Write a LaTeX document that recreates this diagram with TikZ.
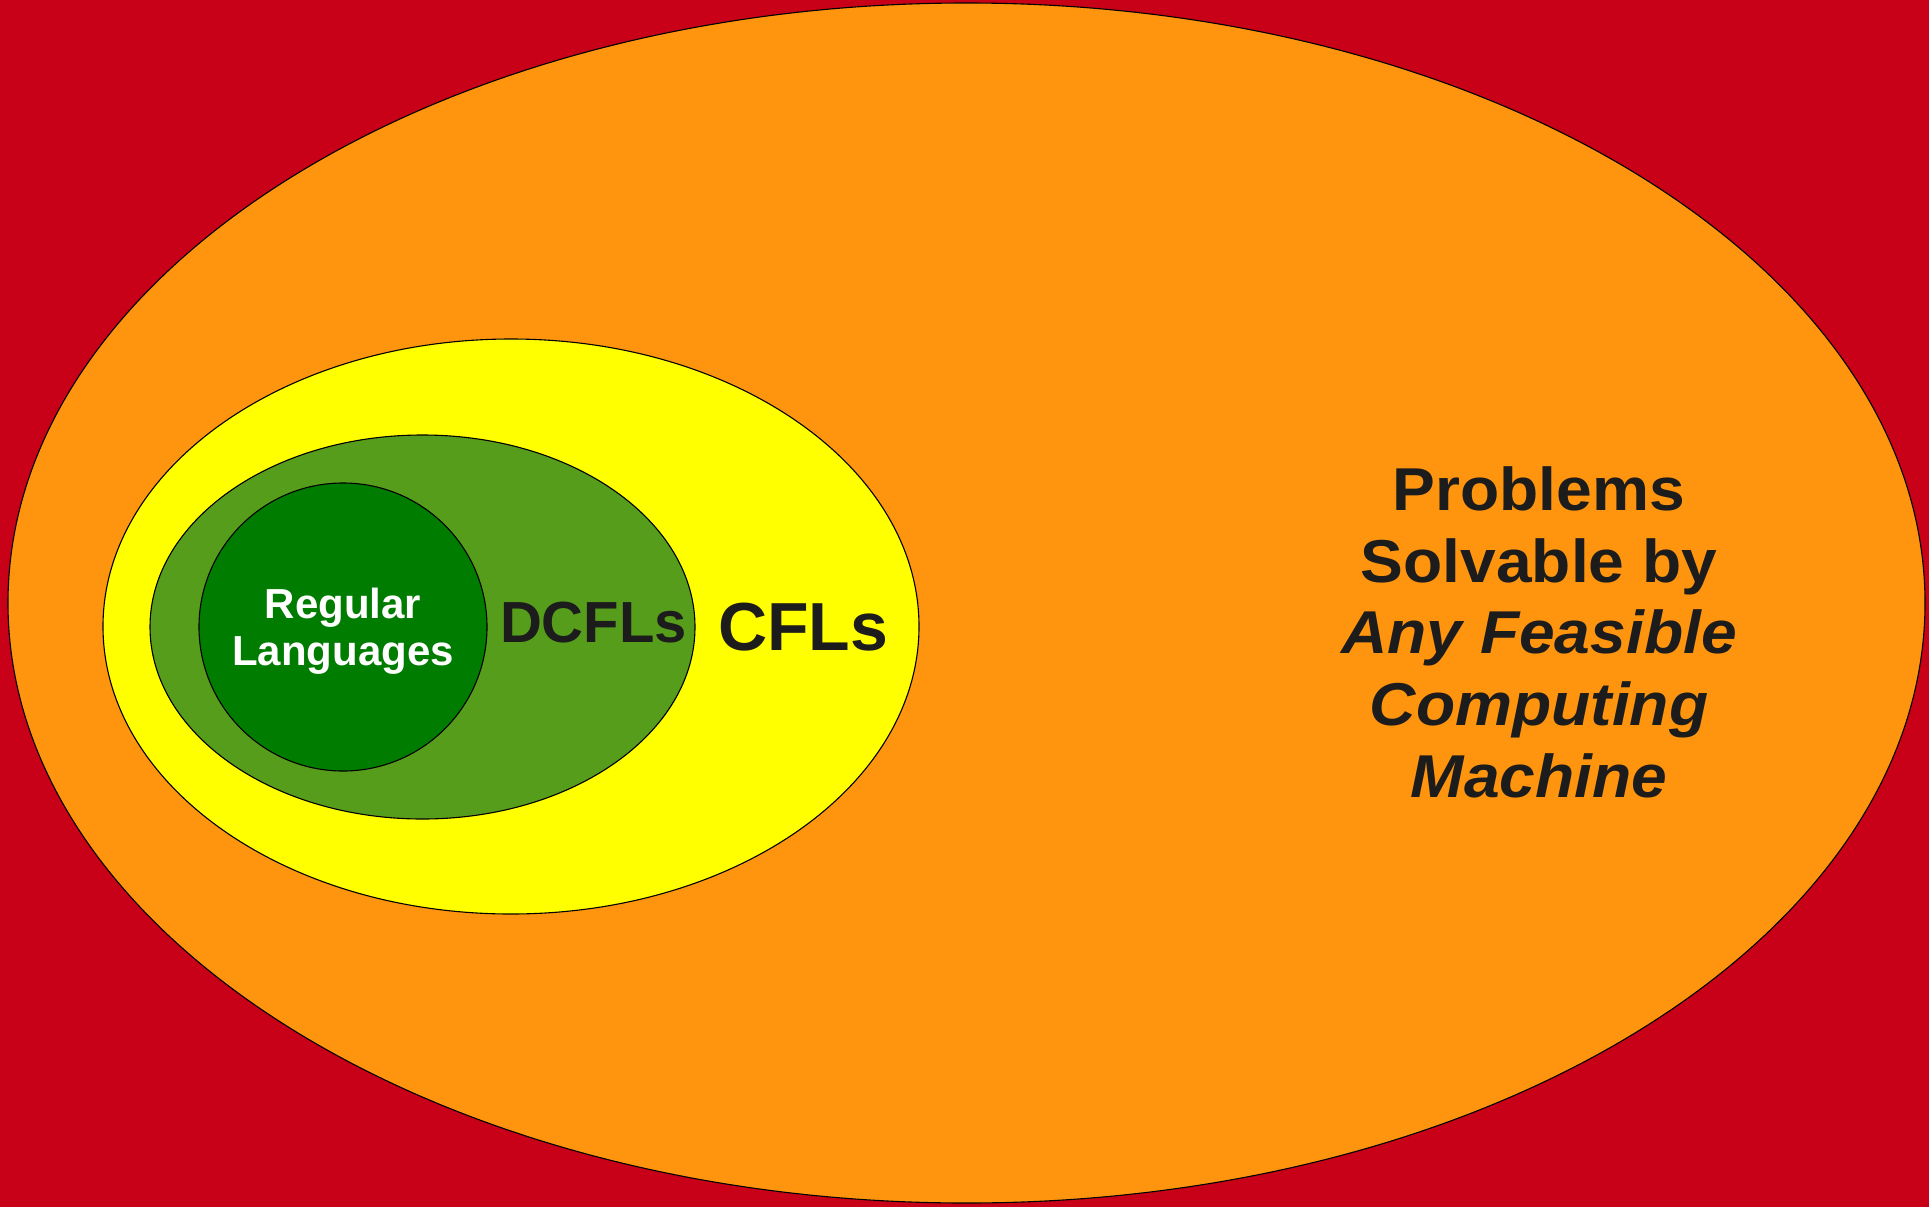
\documentclass[tikz,border=0pt]{standalone}
\usepackage{fontspec}
\setmainfont{Liberation Sans}
\newfontfamily\widesans[FakeStretch=1.06]{Liberation Sans}
\definecolor{bgred}{HTML}{C80018}
\definecolor{orangefill}{HTML}{FF950F}
\definecolor{yellowfill}{HTML}{FFFF00}
\definecolor{olivefill}{HTML}{579D1C}
\definecolor{darkgreenfill}{HTML}{007C00}
\definecolor{inkdark}{HTML}{1C1C1C}
\begin{document}
\begin{tikzpicture}[x=1pt,y=-1pt,
  region/.style={draw=black,line width=1.1pt},
  biglabel/.style={inner sep=0pt,anchor=base,text=inkdark,font=\bfseries},
  problemline/.style={biglabel,font=\widesans\bfseries\fontsize{60.5}{72}\selectfont},
]
% canvas
\fill[bgred] (0,0) rectangle (1929,1207);
\useasboundingbox (0,0) rectangle (1929,1207);

% nested language classes
\path[region,fill=orangefill] (966.5,603) ellipse [x radius=958.5,y radius=600];
\path[region,fill=yellowfill] (511,626.5) ellipse [x radius=408,y radius=287.5];
\path[region,fill=olivefill] (422.5,627) ellipse [x radius=272.5,y radius=192];
\path[region,fill=darkgreenfill] (343,627) circle [radius=144];

% labels
\node[biglabel,text=white,font=\bfseries\fontsize{42}{47}\selectfont] (reg1) at (343,618) {Regular};
\node[biglabel,text=white,font=\bfseries\fontsize{42}{47}\selectfont] (reg2) at (343,665) {Languages};
\node[biglabel,font=\bfseries\fontsize{58}{66}\selectfont] (dcfl) at (593.5,642) {DCFLs};
\node[biglabel,font=\bfseries\fontsize{68}{78}\selectfont] (cfl) at (803,650) {CFLs};

\node[problemline] (p1) at (1539,510) {Problems};
\node[problemline] (p2) at (1539,582) {Solvable by};
\node[problemline] (p3) at (1539,653) {\itshape Any Feasible};
\node[problemline] (p4) at (1539,725) {\itshape Computing};
\node[problemline] (p5) at (1539,797) {\itshape Machine};
\end{tikzpicture}
\end{document}
